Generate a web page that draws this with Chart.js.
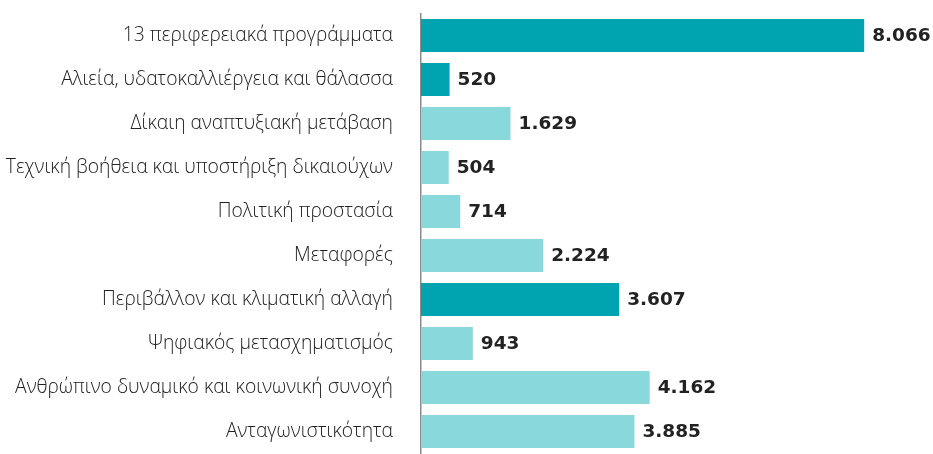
<!DOCTYPE html>
<html>
<head>
<meta charset="utf-8">
<script src="https://cdn.jsdelivr.net/npm/chart.js@4"></script>
<style>
  html, body { margin: 0; padding: 0; background: #fff; }
  canvas { display: block; }
</style>
</head>
<body>
<canvas id="chart" width="933" height="454"></canvas>
<script>
const categories = [
  "13 περιφερειακά προγράμματα",
  "Αλιεία, υδατοκαλλιέργεια και θάλασσα",
  "Δίκαιη αναπτυξιακή μετάβαση",
  "Τεχνική βοήθεια και υποστήριξη δικαιούχων",
  "Πολιτική προστασία",
  "Μεταφορές",
  "Περιβάλλον και κλιματική αλλαγή",
  "Ψηφιακός μετασχηματισμός",
  "Ανθρώπινο δυναμικό και κοινωνική συνοχή",
  "Ανταγωνιστικότητα"
]
const values = [8066, 520, 1629, 504, 714, 2224, 3607, 943, 4162, 3885]
const highlighted = [true, true, false, false, false, false, true, false, false, false]

const darkTeal = "#00a3b0"
const lightTeal = "#88d8dc"

// writes the value at the end of each bar, greek style thousands separator
const valueLabels = {
  id: "valueLabels",
  afterDatasetsDraw(chart) {
    const ctx = chart.ctx
    const meta = chart.getDatasetMeta(0)
    ctx.save()
    ctx.font = "bold 18.5px 'DejaVu Sans'"
    ctx.fillStyle = "#222"
    ctx.textBaseline = "middle"
    meta.data.forEach((bar, i) => {
      const txt = values[i].toLocaleString("el-GR")
      ctx.fillText(txt, bar.x + 8, bar.y + 1)
    })
    ctx.restore()
  }
}

new Chart(document.getElementById("chart"), {
  type: "bar",
  data: {
    labels: categories,
    datasets: [{
      data: values,
      backgroundColor: highlighted.map(h => h ? darkTeal : lightTeal),
      categoryPercentage: 1,
      barPercentage: 0.75,
    }]
  },
  options: {
    indexAxis: "y",
    responsive: false,
    animation: false,
    layout: { padding: { top: 13.5, right: 12, bottom: 0.5, left: 0 } },
    plugins: {
      legend: { display: false },
      tooltip: { enabled: false }
    },
    scales: {
      x: {
        min: 0,
        max: 9100,
        display: false
      },
      y: {
        grid: { display: false, drawTicks: false },
        border: { display: true, color: "#8a8a8a", width: 1.5 },
        ticks: {
          color: "#222",
          padding: 28,
          font: { family: "'Open Sans'", size: 19.3, weight: 300 }
        },
        afterFit(scale) {
          scale.width = 421
          // tick padding otherwise eats vertical room
          scale.paddingTop = 0
          scale.paddingBottom = 0
        }
      }
    }
  },
  plugins: [valueLabels]
})
</script>
</body>
</html>
